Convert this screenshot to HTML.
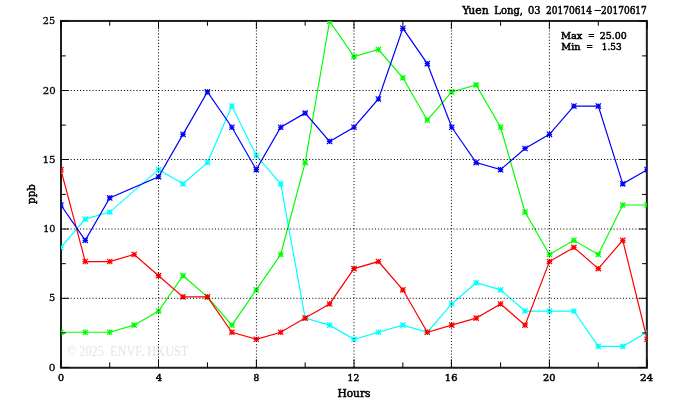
<!DOCTYPE html>
<html><head><meta charset="utf-8"><style>
html,body{margin:0;padding:0;background:#fff;}
body{width:674px;height:409px;overflow:hidden;}
svg{display:block;}
</style></head><body>
<svg width="674" height="409" viewBox="0 0 674 409">
<rect width="674" height="409" fill="#fff"/>
<defs><clipPath id="c"><rect x="61" y="20.95" width="585.85" height="346.8"/></clipPath></defs>
<text x="66.8" y="355.8" font-family="Liberation Serif, serif" font-size="14" fill="#e4e4e4" textLength="121.6" lengthAdjust="spacingAndGlyphs" style="white-space:pre">© 2025  ENVF, HKUST</text>
<rect x="61" y="20.95" width="585.85" height="346.8" fill="none" stroke="#1e1e1e" stroke-width="2"/>
<g clip-path="url(#c)" fill="none" stroke-width="1.2" stroke-linejoin="miter">
<path d="M60.85,247.42 L85.28,219.14 L109.71,212.08 L158.57,169.67 L183,183.81 L207.43,162.6 L231.86,106.06 L256.29,155.53 L280.72,183.81 L305.15,318.09 L329.58,325.16 L354.01,339.3 L378.44,332.23 L402.87,325.16 L427.3,332.23 L451.73,303.96 L476.16,282.76 L500.59,289.82 L525.02,311.03 L549.45,311.03 L573.88,311.03 L598.31,346.37 L622.74,346.37 L647.17,332.23" stroke="#00ffff"/>
<path d="M58.2,247.42h5.3M60.85,244.77v5.3M58.2,244.77l5.3,5.3M58.2,250.07l5.3,-5.3M82.63,219.14h5.3M85.28,216.49v5.3M82.63,216.49l5.3,5.3M82.63,221.79l5.3,-5.3M107.06,212.08h5.3M109.71,209.43v5.3M107.06,209.43l5.3,5.3M107.06,214.73l5.3,-5.3M155.92,169.67h5.3M158.57,167.02v5.3M155.92,167.02l5.3,5.3M155.92,172.32l5.3,-5.3M180.35,183.81h5.3M183,181.16v5.3M180.35,181.16l5.3,5.3M180.35,186.46l5.3,-5.3M204.78,162.6h5.3M207.43,159.95v5.3M204.78,159.95l5.3,5.3M204.78,165.25l5.3,-5.3M229.21,106.06h5.3M231.86,103.41v5.3M229.21,103.41l5.3,5.3M229.21,108.71l5.3,-5.3M253.64,155.53h5.3M256.29,152.88v5.3M253.64,152.88l5.3,5.3M253.64,158.18l5.3,-5.3M278.07,183.81h5.3M280.72,181.16v5.3M278.07,181.16l5.3,5.3M278.07,186.46l5.3,-5.3M302.5,318.09h5.3M305.15,315.44v5.3M302.5,315.44l5.3,5.3M302.5,320.74l5.3,-5.3M326.93,325.16h5.3M329.58,322.51v5.3M326.93,322.51l5.3,5.3M326.93,327.81l5.3,-5.3M351.36,339.3h5.3M354.01,336.65v5.3M351.36,336.65l5.3,5.3M351.36,341.95l5.3,-5.3M375.79,332.23h5.3M378.44,329.58v5.3M375.79,329.58l5.3,5.3M375.79,334.88l5.3,-5.3M400.22,325.16h5.3M402.87,322.51v5.3M400.22,322.51l5.3,5.3M400.22,327.81l5.3,-5.3M424.65,332.23h5.3M427.3,329.58v5.3M424.65,329.58l5.3,5.3M424.65,334.88l5.3,-5.3M449.08,303.96h5.3M451.73,301.31v5.3M449.08,301.31l5.3,5.3M449.08,306.61l5.3,-5.3M473.51,282.76h5.3M476.16,280.11v5.3M473.51,280.11l5.3,5.3M473.51,285.41l5.3,-5.3M497.94,289.82h5.3M500.59,287.17v5.3M497.94,287.17l5.3,5.3M497.94,292.47l5.3,-5.3M522.37,311.03h5.3M525.02,308.38v5.3M522.37,308.38l5.3,5.3M522.37,313.68l5.3,-5.3M546.8,311.03h5.3M549.45,308.38v5.3M546.8,308.38l5.3,5.3M546.8,313.68l5.3,-5.3M571.23,311.03h5.3M573.88,308.38v5.3M571.23,308.38l5.3,5.3M571.23,313.68l5.3,-5.3M595.66,346.37h5.3M598.31,343.72v5.3M595.66,343.72l5.3,5.3M595.66,349.02l5.3,-5.3M620.09,346.37h5.3M622.74,343.72v5.3M620.09,343.72l5.3,5.3M620.09,349.02l5.3,-5.3M644.52,332.23h5.3M647.17,329.58v5.3M644.52,329.58l5.3,5.3M644.52,334.88l5.3,-5.3" stroke="#00ffff" stroke-width="1.2"/>
<path d="M60.85,332.23 L85.28,332.23 L109.71,332.23 L134.14,325.16 L158.57,311.03 L183,275.69 L207.43,296.89 L231.86,325.16 L256.29,289.82 L280.72,254.48 L305.15,162.6 L329.58,21.25 L354.01,56.58 L378.44,49.52 L402.87,77.79 L427.3,120.19 L451.73,91.92 L476.16,84.86 L500.59,127.26 L525.02,212.08 L549.45,254.48 L573.88,240.35 L598.31,254.48 L622.74,205.01 L647.17,205.01" stroke="#00ff00"/>
<path d="M58.2,332.23h5.3M60.85,329.58v5.3M58.2,329.58l5.3,5.3M58.2,334.88l5.3,-5.3M82.63,332.23h5.3M85.28,329.58v5.3M82.63,329.58l5.3,5.3M82.63,334.88l5.3,-5.3M107.06,332.23h5.3M109.71,329.58v5.3M107.06,329.58l5.3,5.3M107.06,334.88l5.3,-5.3M131.49,325.16h5.3M134.14,322.51v5.3M131.49,322.51l5.3,5.3M131.49,327.81l5.3,-5.3M155.92,311.03h5.3M158.57,308.38v5.3M155.92,308.38l5.3,5.3M155.92,313.68l5.3,-5.3M180.35,275.69h5.3M183,273.04v5.3M180.35,273.04l5.3,5.3M180.35,278.34l5.3,-5.3M204.78,296.89h5.3M207.43,294.24v5.3M204.78,294.24l5.3,5.3M204.78,299.54l5.3,-5.3M229.21,325.16h5.3M231.86,322.51v5.3M229.21,322.51l5.3,5.3M229.21,327.81l5.3,-5.3M253.64,289.82h5.3M256.29,287.17v5.3M253.64,287.17l5.3,5.3M253.64,292.47l5.3,-5.3M278.07,254.48h5.3M280.72,251.83v5.3M278.07,251.83l5.3,5.3M278.07,257.13l5.3,-5.3M302.5,162.6h5.3M305.15,159.95v5.3M302.5,159.95l5.3,5.3M302.5,165.25l5.3,-5.3M326.93,21.25h5.3M329.58,18.6v5.3M326.93,18.6l5.3,5.3M326.93,23.9l5.3,-5.3M351.36,56.58h5.3M354.01,53.93v5.3M351.36,53.93l5.3,5.3M351.36,59.23l5.3,-5.3M375.79,49.52h5.3M378.44,46.87v5.3M375.79,46.87l5.3,5.3M375.79,52.17l5.3,-5.3M400.22,77.79h5.3M402.87,75.14v5.3M400.22,75.14l5.3,5.3M400.22,80.44l5.3,-5.3M424.65,120.19h5.3M427.3,117.54v5.3M424.65,117.54l5.3,5.3M424.65,122.84l5.3,-5.3M449.08,91.92h5.3M451.73,89.27v5.3M449.08,89.27l5.3,5.3M449.08,94.57l5.3,-5.3M473.51,84.86h5.3M476.16,82.21v5.3M473.51,82.21l5.3,5.3M473.51,87.51l5.3,-5.3M497.94,127.26h5.3M500.59,124.61v5.3M497.94,124.61l5.3,5.3M497.94,129.91l5.3,-5.3M522.37,212.08h5.3M525.02,209.43v5.3M522.37,209.43l5.3,5.3M522.37,214.73l5.3,-5.3M546.8,254.48h5.3M549.45,251.83v5.3M546.8,251.83l5.3,5.3M546.8,257.13l5.3,-5.3M571.23,240.35h5.3M573.88,237.7v5.3M571.23,237.7l5.3,5.3M571.23,243l5.3,-5.3M595.66,254.48h5.3M598.31,251.83v5.3M595.66,251.83l5.3,5.3M595.66,257.13l5.3,-5.3M620.09,205.01h5.3M622.74,202.36v5.3M620.09,202.36l5.3,5.3M620.09,207.66l5.3,-5.3M644.52,205.01h5.3M647.17,202.36v5.3M644.52,202.36l5.3,5.3M644.52,207.66l5.3,-5.3" stroke="#00ff00" stroke-width="1.2"/>
<path d="M60.85,169.67 L85.28,261.55 L109.71,261.55 L134.14,254.48 L158.57,275.69 L183,296.89 L207.43,296.89 L231.86,332.23 L256.29,339.3 L280.72,332.23 L305.15,318.09 L329.58,303.96 L354.01,268.62 L378.44,261.55 L402.87,289.82 L427.3,332.23 L451.73,325.16 L476.16,318.09 L500.59,303.96 L525.02,325.16 L549.45,261.55 L573.88,247.42 L598.31,268.62 L622.74,240.35 L647.17,339.3" stroke="#ff0000"/>
<path d="M58.2,169.67h5.3M60.85,167.02v5.3M58.2,167.02l5.3,5.3M58.2,172.32l5.3,-5.3M82.63,261.55h5.3M85.28,258.9v5.3M82.63,258.9l5.3,5.3M82.63,264.2l5.3,-5.3M107.06,261.55h5.3M109.71,258.9v5.3M107.06,258.9l5.3,5.3M107.06,264.2l5.3,-5.3M131.49,254.48h5.3M134.14,251.83v5.3M131.49,251.83l5.3,5.3M131.49,257.13l5.3,-5.3M155.92,275.69h5.3M158.57,273.04v5.3M155.92,273.04l5.3,5.3M155.92,278.34l5.3,-5.3M180.35,296.89h5.3M183,294.24v5.3M180.35,294.24l5.3,5.3M180.35,299.54l5.3,-5.3M204.78,296.89h5.3M207.43,294.24v5.3M204.78,294.24l5.3,5.3M204.78,299.54l5.3,-5.3M229.21,332.23h5.3M231.86,329.58v5.3M229.21,329.58l5.3,5.3M229.21,334.88l5.3,-5.3M253.64,339.3h5.3M256.29,336.65v5.3M253.64,336.65l5.3,5.3M253.64,341.95l5.3,-5.3M278.07,332.23h5.3M280.72,329.58v5.3M278.07,329.58l5.3,5.3M278.07,334.88l5.3,-5.3M302.5,318.09h5.3M305.15,315.44v5.3M302.5,315.44l5.3,5.3M302.5,320.74l5.3,-5.3M326.93,303.96h5.3M329.58,301.31v5.3M326.93,301.31l5.3,5.3M326.93,306.61l5.3,-5.3M351.36,268.62h5.3M354.01,265.97v5.3M351.36,265.97l5.3,5.3M351.36,271.27l5.3,-5.3M375.79,261.55h5.3M378.44,258.9v5.3M375.79,258.9l5.3,5.3M375.79,264.2l5.3,-5.3M400.22,289.82h5.3M402.87,287.17v5.3M400.22,287.17l5.3,5.3M400.22,292.47l5.3,-5.3M424.65,332.23h5.3M427.3,329.58v5.3M424.65,329.58l5.3,5.3M424.65,334.88l5.3,-5.3M449.08,325.16h5.3M451.73,322.51v5.3M449.08,322.51l5.3,5.3M449.08,327.81l5.3,-5.3M473.51,318.09h5.3M476.16,315.44v5.3M473.51,315.44l5.3,5.3M473.51,320.74l5.3,-5.3M497.94,303.96h5.3M500.59,301.31v5.3M497.94,301.31l5.3,5.3M497.94,306.61l5.3,-5.3M522.37,325.16h5.3M525.02,322.51v5.3M522.37,322.51l5.3,5.3M522.37,327.81l5.3,-5.3M546.8,261.55h5.3M549.45,258.9v5.3M546.8,258.9l5.3,5.3M546.8,264.2l5.3,-5.3M571.23,247.42h5.3M573.88,244.77v5.3M571.23,244.77l5.3,5.3M571.23,250.07l5.3,-5.3M595.66,268.62h5.3M598.31,265.97v5.3M595.66,265.97l5.3,5.3M595.66,271.27l5.3,-5.3M620.09,240.35h5.3M622.74,237.7v5.3M620.09,237.7l5.3,5.3M620.09,243l5.3,-5.3M644.52,339.3h5.3M647.17,336.65v5.3M644.52,336.65l5.3,5.3M644.52,341.95l5.3,-5.3" stroke="#ff0000" stroke-width="1.2"/>
<path d="M60.85,205.01 L85.28,240.35 L109.71,197.94 L158.57,176.74 L183,134.33 L207.43,91.92 L231.86,127.26 L256.29,169.67 L280.72,127.26 L305.15,113.13 L329.58,141.4 L354.01,127.26 L378.44,98.99 L402.87,28.31 L427.3,63.65 L451.73,127.26 L476.16,162.6 L500.59,169.67 L525.02,148.47 L549.45,134.33 L573.88,106.06 L598.31,106.06 L622.74,183.81 L647.17,169.67" stroke="#0000ff"/>
<path d="M58.2,205.01h5.3M60.85,202.36v5.3M58.2,202.36l5.3,5.3M58.2,207.66l5.3,-5.3M82.63,240.35h5.3M85.28,237.7v5.3M82.63,237.7l5.3,5.3M82.63,243l5.3,-5.3M107.06,197.94h5.3M109.71,195.29v5.3M107.06,195.29l5.3,5.3M107.06,200.59l5.3,-5.3M155.92,176.74h5.3M158.57,174.09v5.3M155.92,174.09l5.3,5.3M155.92,179.39l5.3,-5.3M180.35,134.33h5.3M183,131.68v5.3M180.35,131.68l5.3,5.3M180.35,136.98l5.3,-5.3M204.78,91.92h5.3M207.43,89.27v5.3M204.78,89.27l5.3,5.3M204.78,94.57l5.3,-5.3M229.21,127.26h5.3M231.86,124.61v5.3M229.21,124.61l5.3,5.3M229.21,129.91l5.3,-5.3M253.64,169.67h5.3M256.29,167.02v5.3M253.64,167.02l5.3,5.3M253.64,172.32l5.3,-5.3M278.07,127.26h5.3M280.72,124.61v5.3M278.07,124.61l5.3,5.3M278.07,129.91l5.3,-5.3M302.5,113.13h5.3M305.15,110.48v5.3M302.5,110.48l5.3,5.3M302.5,115.78l5.3,-5.3M326.93,141.4h5.3M329.58,138.75v5.3M326.93,138.75l5.3,5.3M326.93,144.05l5.3,-5.3M351.36,127.26h5.3M354.01,124.61v5.3M351.36,124.61l5.3,5.3M351.36,129.91l5.3,-5.3M375.79,98.99h5.3M378.44,96.34v5.3M375.79,96.34l5.3,5.3M375.79,101.64l5.3,-5.3M400.22,28.31h5.3M402.87,25.66v5.3M400.22,25.66l5.3,5.3M400.22,30.96l5.3,-5.3M424.65,63.65h5.3M427.3,61v5.3M424.65,61l5.3,5.3M424.65,66.3l5.3,-5.3M449.08,127.26h5.3M451.73,124.61v5.3M449.08,124.61l5.3,5.3M449.08,129.91l5.3,-5.3M473.51,162.6h5.3M476.16,159.95v5.3M473.51,159.95l5.3,5.3M473.51,165.25l5.3,-5.3M497.94,169.67h5.3M500.59,167.02v5.3M497.94,167.02l5.3,5.3M497.94,172.32l5.3,-5.3M522.37,148.47h5.3M525.02,145.82v5.3M522.37,145.82l5.3,5.3M522.37,151.12l5.3,-5.3M546.8,134.33h5.3M549.45,131.68v5.3M546.8,131.68l5.3,5.3M546.8,136.98l5.3,-5.3M571.23,106.06h5.3M573.88,103.41v5.3M571.23,103.41l5.3,5.3M571.23,108.71l5.3,-5.3M595.66,106.06h5.3M598.31,103.41v5.3M595.66,103.41l5.3,5.3M595.66,108.71l5.3,-5.3M620.09,183.81h5.3M622.74,181.16v5.3M620.09,181.16l5.3,5.3M620.09,186.46l5.3,-5.3M644.52,169.67h5.3M647.17,167.02v5.3M644.52,167.02l5.3,5.3M644.52,172.32l5.3,-5.3" stroke="#0000ff" stroke-width="1.2"/>
</g>
<path d="M158.5,20.95V367.75M256.4,20.95V367.75M354,20.95V367.75M451.4,20.95V367.75M549.4,20.95V367.75M61.2,298.3H646.85M61.2,229H646.85M61.2,159.5H646.85M61.2,90.5H646.85" stroke="#000" stroke-width="1" stroke-dasharray="1.046,2.092" fill="none"/>
<path d="M60.85,367.75v-8.4M60.85,20.95v8M109.71,367.75v-5.3999999999999995M109.71,20.95v4.8M158.5,367.75v-8.4M158.5,20.95v8M207.43,367.75v-5.3999999999999995M207.43,20.95v4.8M256.4,367.75v-8.4M256.4,20.95v8M305.15,367.75v-5.3999999999999995M305.15,20.95v4.8M354,367.75v-8.4M354,20.95v8M402.87,367.75v-5.3999999999999995M402.87,20.95v4.8M451.4,367.75v-8.4M451.4,20.95v8M500.59,367.75v-5.3999999999999995M500.59,20.95v4.8M549.4,367.75v-8.4M549.4,20.95v8M598.31,367.75v-5.3999999999999995M598.31,20.95v4.8M647.17,367.75v-8.4M647.17,20.95v8M61,367.57h8M646.85,367.57h-8M61,332.94h4.8M646.85,332.94h-4.8M61,298.3h8M646.85,298.3h-8M61,263.67h4.8M646.85,263.67h-4.8M61,229h8M646.85,229h-8M61,194.41h4.8M646.85,194.41h-4.8M61,159.5h8M646.85,159.5h-8M61,125.14h4.8M646.85,125.14h-4.8M61,90.5h8M646.85,90.5h-8M61,55.88h4.8M646.85,55.88h-4.8M61,21.25h8M646.85,21.25h-8" stroke="#000" stroke-width="1" fill="none"/>
<g font-family="DejaVu Serif, Liberation Serif, serif" font-size="9.9" stroke="#000" stroke-width="0.3"><text x="48.8" y="370.75" font-size="9.9" stroke-width="0.3" textLength="6.72" lengthAdjust="spacingAndGlyphs">0</text><text x="49" y="301.3" font-size="9.9" stroke-width="0.3" textLength="6.3" lengthAdjust="spacingAndGlyphs">5</text><text x="43.23" y="232" font-size="9.9" stroke-width="0.3" textLength="12.24" lengthAdjust="spacingAndGlyphs">10</text><text x="42.45" y="162.5" font-size="9.9" stroke-width="0.3" textLength="13.15" lengthAdjust="spacingAndGlyphs">15</text><text x="42.7" y="93.5" font-size="9.9" stroke-width="0.3" textLength="12.89" lengthAdjust="spacingAndGlyphs">20</text><text x="42.8" y="23.95" font-size="9.9" stroke-width="0.3" textLength="12.37" lengthAdjust="spacingAndGlyphs">25</text></g>
<g font-family="DejaVu Serif, Liberation Serif, serif" font-size="9.7" stroke="#000" stroke-width="0.5"><text x="58.1" y="381.4" font-size="9.7" stroke-width="0.5" textLength="6.07" lengthAdjust="spacingAndGlyphs">0</text><text x="155.8" y="381.4" font-size="9.7" stroke-width="0.5" textLength="6.38" lengthAdjust="spacingAndGlyphs">4</text><text x="253.5" y="381.4" font-size="9.7" stroke-width="0.5" textLength="5.76" lengthAdjust="spacingAndGlyphs">8</text><text x="347.55" y="381.4" font-size="9.7" stroke-width="0.5" textLength="11.66" lengthAdjust="spacingAndGlyphs">12</text><text x="444.88" y="381.4" font-size="9.7" stroke-width="0.5" textLength="12.55" lengthAdjust="spacingAndGlyphs">16</text><text x="543" y="381.4" font-size="9.7" stroke-width="0.5" textLength="12.43" lengthAdjust="spacingAndGlyphs">20</text><text x="639.9" y="381.4" font-size="9.7" stroke-width="0.5" textLength="13.15" lengthAdjust="spacingAndGlyphs">24</text></g>
<g font-family="DejaVu Serif, Liberation Serif, serif" font-size="10.2" stroke="#000" stroke-width="0.5">
<text x="462.17" y="13.6" font-size="10.2" stroke-width="0.5" textLength="26.63" lengthAdjust="spacingAndGlyphs">Yuen</text><text x="494.3" y="13.6" font-size="10.2" stroke-width="0.5" textLength="28.73" lengthAdjust="spacingAndGlyphs">Long,</text><text x="528" y="13.7" font-size="10.2" stroke-width="0.5" textLength="12.57" lengthAdjust="spacingAndGlyphs">03</text><text x="546.1" y="13.7" font-size="10.2" stroke-width="0.5" textLength="45.98" lengthAdjust="spacingAndGlyphs">20170614</text><text x="594.2" y="13.1" font-size="10.2" stroke-width="0.5" textLength="6.93" lengthAdjust="spacingAndGlyphs">–</text><text x="600.9" y="13.7" font-size="10.2" stroke-width="0.5" textLength="45.98" lengthAdjust="spacingAndGlyphs">20170617</text>
<g font-size="9.5"><text x="561" y="38.8" font-size="9.5" stroke-width="0.5" textLength="21.34" lengthAdjust="spacingAndGlyphs">Max</text><text x="588" y="38.8" font-size="9.5" stroke-width="0.5" textLength="6.77" lengthAdjust="spacingAndGlyphs">=</text><text x="599.8" y="38.8" font-size="9.5" stroke-width="0.5" textLength="26.9" lengthAdjust="spacingAndGlyphs">25.00</text><text x="561.3" y="49.8" font-size="9.5" stroke-width="0.5" textLength="19.19" lengthAdjust="spacingAndGlyphs">Min</text><text x="586.2" y="49.8" font-size="9.5" stroke-width="0.5" textLength="6.77" lengthAdjust="spacingAndGlyphs">=</text><text x="601.86" y="49.8" font-size="9.5" stroke-width="0.5" textLength="19.78" lengthAdjust="spacingAndGlyphs">1.53</text></g>
<text x="337.4" y="396.8" font-size="10.2" stroke-width="0.5" textLength="33.07" lengthAdjust="spacingAndGlyphs">Hours</text>
<text transform="translate(35.4,194.1) rotate(-90)" x="0" y="0" text-anchor="middle">ppb</text>
</g>
</svg>
</body></html>
